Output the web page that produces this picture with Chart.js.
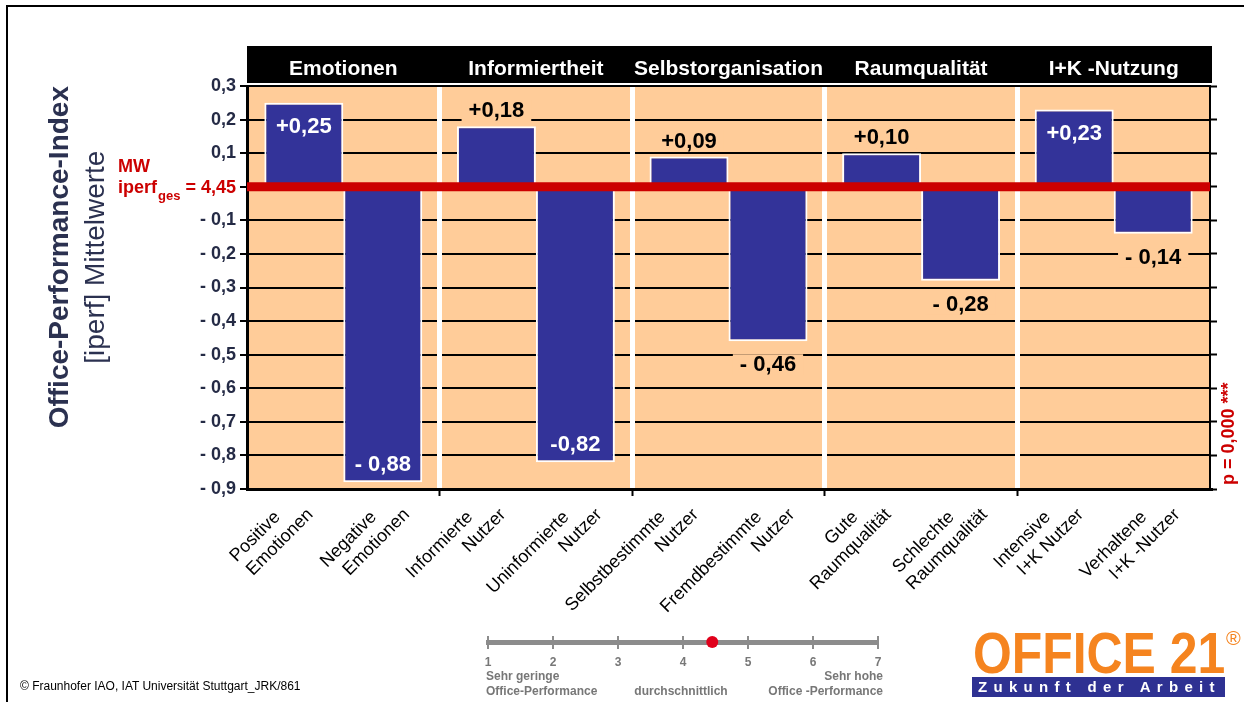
<!DOCTYPE html>
<html lang="de">
<head>
<meta charset="utf-8">
<title>Office-Performance-Index</title>
<script src="https://cdn.jsdelivr.net/npm/chart.js@4.4.1/dist/chart.umd.min.js"></script>
<style>
  html, body { margin: 0; padding: 0; background: #fff; }
  body { width: 1244px; height: 702px; position: relative; overflow: hidden;
         font-family: 'Liberation Sans', Arial, sans-serif; }
  #frame { position: absolute; left: 6px; top: 5px; width: 1300px; height: 800px;
           border-left: 2px solid #000; border-top: 2px solid #000; }
  #main { position: absolute; left: 0; top: 0; }
  #scale { position: absolute; left: 478px; top: 626px; }
  .st { position: absolute; font-weight: bold; font-size: 12px; color: #777;
        white-space: nowrap; line-height: 14px; width: 200px; }
  #footer { position: absolute; left: 20px; top: 679px; font-size: 12px; line-height: 14px;
            color: #000; white-space: nowrap; }
  #logo { position: absolute; left: 973px; top: 625px; font-size: 57px; line-height: 57px;
          font-weight: bold; color: #f5841f; white-space: nowrap;
          transform: scaleX(0.875); transform-origin: left top; }
  #reg { position: absolute; left: 1226px; top: 628px; font-size: 20px; line-height: 20px;
         color: #f5841f; }
  #band { position: absolute; left: 972px; top: 677px; width: 253px; height: 20px;
          background: #2e3192; color: #fff; font-weight: bold; font-size: 15px;
          line-height: 20px; letter-spacing: 6.3px; padding-left: 6px; box-sizing: border-box;
          white-space: nowrap; overflow: hidden; }
</style>
</head>
<body>
<div id="frame"></div>
<canvas id="main" width="1244" height="702"></canvas>
<canvas id="scale" width="410" height="50"></canvas>
<div class="st" style="left:486px;top:669px;text-align:left;">Sehr geringe</div>
<div class="st" style="left:486px;top:684px;text-align:left;">Office-Performance</div>
<div class="st" style="left:581px;top:684px;text-align:center;">durchschnittlich</div>
<div class="st" style="left:683px;top:669px;text-align:right;">Sehr hohe</div>
<div class="st" style="left:683px;top:684px;text-align:right;">Office -Performance</div>
<div id="footer">© Fraunhofer IAO, IAT Universität Stuttgart_JRK/861</div>
<div id="logo">OFFICE 21</div>
<div id="reg">®</div>
<div id="band">Zukunft der Arbeit</div>
<script>
// ---- data ----
const groups = ['Emotionen', 'Informiertheit', 'Selbstorganisation', 'Raumqualität', 'I+K -Nutzung'];
const barLabels = [
  ['Positive', 'Emotionen'], ['Negative', 'Emotionen'],
  ['Informierte', 'Nutzer'], ['Uninformierte', 'Nutzer'],
  ['Selbstbestimmte', 'Nutzer'], ['Fremdbestimmte', 'Nutzer'],
  ['Gute', 'Raumqualität'], ['Schlechte', 'Raumqualität'],
  ['Intensive', 'I+K Nutzer'], ['Verhaltene', 'I+K -Nutzer']
];
// deviation from the overall mean iperf, one value per bar
const deviations = [0.25, -0.88, 0.18, -0.82, 0.09, -0.46, 0.10, -0.28, 0.23, -0.14];
const valueTexts = ['+0,25', '- 0,88', '+0,18', '-0,82', '+0,09', '- 0,46', '+0,10', '- 0,28', '+0,23', '- 0,14'];
const yMin = -0.9;
const yMax = 0.3;
const yStep = 0.1;
const overallMean = 4.45;
const pText = 'p = 0,000 ***';
const perfScaleMin = 1;
const perfScaleMax = 7;

// ---- styling ----
const FONT = "'Liberation Sans', Arial, sans-serif";
const PEACH = '#ffcc99';
const NAVY = '#333399';
const RED = '#cc0000';
const AXIS_TEXT = '#242a45';
const TITLE_TEXT = '#2b3150';
Chart.defaults.font.family = FONT;

const firstOfPair = deviations.filter((_, i) => i % 2 === 0);
const secondOfPair = deviations.filter((_, i) => i % 2 === 1);

function fmtTick(v) {
  const r = Math.round(v * 10);
  if (r === 0) return '';
  const s = (Math.abs(r) / 10).toFixed(1).replace('.', ',');
  return r > 0 ? s : '- ' + s;
}

// peach plot area and black header band
const backdrop = {
  id: 'backdrop',
  beforeDraw(chart) {
    const { ctx, chartArea: a, scales } = chart;
    ctx.save();
    ctx.fillStyle = PEACH;
    ctx.fillRect(a.left, a.top, a.right - a.left, a.bottom - a.top);
    const h = scales.xTop;
    ctx.fillStyle = '#000';
    ctx.fillRect(h.left, h.top, h.right - h.left + 2, h.bottom - h.top - 3);
    ctx.restore();
  }
};

// thick red line at the overall mean (deviation 0)
const meanLine = {
  id: 'meanLine',
  afterDatasetsDraw(chart) {
    const { ctx, chartArea: a, scales } = chart;
    const y0 = scales.y.getPixelForValue(0);
    ctx.save();
    ctx.fillStyle = RED;
    ctx.fillRect(a.left, y0 - 4.5, a.right - a.left, 9);
    ctx.restore();
  }
};

// value labels on / next to the bars
const valueLabels = {
  id: 'valueLabels',
  afterDatasetsDraw(chart) {
    const { ctx } = chart;
    ctx.save();
    ctx.font = 'bold 22px ' + FONT;
    ctx.textAlign = 'center';
    ctx.textBaseline = 'middle';
    chart.data.datasets.forEach((ds, d) => {
      const meta = chart.getDatasetMeta(d);
      meta.data.forEach((bar, i) => {
        const k = i * 2 + d;
        const v = deviations[k];
        const txt = valueTexts[k];
        const inside = v > 0 ? v >= 0.2 : v <= -0.8;
        let y;
        if (inside) y = v > 0 ? bar.y + 23 : bar.y - 18;
        else y = v > 0 ? bar.y - 16 : bar.y + 23;
        if (!inside) {
          const w = ctx.measureText(txt).width;
          ctx.fillStyle = PEACH;
          ctx.fillRect(bar.x - w / 2 - 7, y - 10, w + 14, 21);
        }
        ctx.fillStyle = inside ? '#fff' : '#000';
        ctx.fillText(txt, bar.x, y + 1);
      });
    });
    ctx.restore();
  }
};

// mean annotation, second title line and significance note
const annotations = {
  id: 'annotations',
  afterDraw(chart) {
    const { ctx, chartArea: a, scales } = chart;
    const ys = scales.y;
    const y0 = ys.getPixelForValue(0);
    ctx.save();
    // MW  iperf_ges = 4,45
    const meanStr = ' = ' + overallMean.toFixed(2).replace('.', ',');
    ctx.fillStyle = RED;
    ctx.textBaseline = 'alphabetic';
    ctx.textAlign = 'left';
    ctx.font = 'bold 18px ' + FONT;
    const w1 = ctx.measureText('iperf').width;
    const w3 = ctx.measureText(meanStr).width;
    ctx.font = 'bold 13px ' + FONT;
    const w2 = ctx.measureText('ges').width + 1;
    const xr = ys.right - 11;
    const x0 = xr - (w1 + w2 + w3);
    ctx.font = 'bold 18px ' + FONT;
    ctx.fillText('MW', x0, y0 - 15);
    ctx.fillText('iperf', x0, y0 + 6);
    ctx.fillText(meanStr, x0 + w1 + w2, y0 + 6);
    ctx.font = 'bold 13px ' + FONT;
    ctx.fillText('ges', x0 + w1 + 1, y0 + 13);

    // second line of the y axis title
    ctx.font = 'bold 28px ' + FONT;
    const L = ctx.measureText(ys.options.title.text).width;
    ctx.save();
    ctx.translate(ys.left + 96, ys.top + L / 2);
    ctx.rotate(-Math.PI / 2);
    ctx.font = '28px ' + FONT;
    ctx.fillStyle = TITLE_TEXT;
    ctx.textAlign = 'center';
    ctx.textBaseline = 'middle';
    ctx.fillText('[iperf] Mittelwerte', 0, 0);
    ctx.restore();

    // significance, rotated along the right axis
    ctx.save();
    ctx.translate(a.right + 19, a.bottom - 4);
    ctx.rotate(-Math.PI / 2);
    ctx.font = 'bold 18px ' + FONT;
    ctx.fillStyle = RED;
    ctx.textAlign = 'left';
    ctx.textBaseline = 'middle';
    ctx.fillText(pText, 0, 0);
    ctx.restore();
    ctx.restore();
  }
};

const separatorColor = (c, col) => (c.index >= 1 ? col : 'rgba(0,0,0,0)');

new Chart(document.getElementById('main'), {
  type: 'bar',
  data: {
    labels: groups,
    datasets: [
      { data: firstOfPair, backgroundColor: NAVY, borderColor: '#fff', borderWidth: 2,
        categoryPercentage: 0.82, barPercentage: 1 },
      { data: secondOfPair, backgroundColor: NAVY, borderColor: '#fff', borderWidth: 2,
        categoryPercentage: 0.82, barPercentage: 1 }
    ]
  },
  plugins: [backdrop, meanLine, valueLabels, annotations],
  options: {
    responsive: false,
    animation: false,
    events: [],
    layout: { padding: { top: 46, left: 0, right: 0, bottom: 0 } },
    plugins: { legend: { display: false }, tooltip: { enabled: false } },
    scales: {
      y: {
        position: 'left',
        min: yMin, max: yMax,
        afterFit(s) { s.width = 247; },
        ticks: { stepSize: yStep, callback: v => fmtTick(v), color: AXIS_TEXT, padding: 4,
                 font: { size: 18, weight: 'bold' } },
        grid: { color: '#000', lineWidth: 2, tickLength: 7, tickColor: '#000', tickWidth: 2 },
        border: { color: '#000', width: 3 },
        title: { display: true, text: 'Office-Performance-Index', align: 'end', color: TITLE_TEXT,
                 font: { size: 28, weight: 'bold' }, padding: { top: 43, bottom: 0 } }
      },
      yR: {
        position: 'right',
        min: yMin, max: yMax,
        afterFit(s) { s.width = 34; },
        ticks: { display: false, stepSize: yStep },
        grid: { drawOnChartArea: false, tickLength: 7, color: '#000', tickColor: '#000', tickWidth: 2 },
        border: { color: '#000', width: 2 }
      },
      x: {
        position: 'bottom',
        offset: true,
        afterFit(s) { s.height = 0; },
        ticks: { display: false },
        grid: { offset: true, z: -0.5, lineWidth: 5, tickLength: 7, tickWidth: 2,
                color: c => separatorColor(c, '#fff'),
                tickColor: c => separatorColor(c, '#000') },
        border: { color: '#000', width: 3 }
      },
      xTop: {
        type: 'category',
        position: 'top',
        labels: groups,
        offset: true,
        afterFit(s) { s.height = 40; },
        grid: { display: false, drawTicks: false },
        border: { display: true, color: '#000', width: 2 },
        ticks: { color: '#fff', padding: 4, autoSkip: false, minRotation: 0, maxRotation: 0,
                 font: { size: 21, weight: 'bold' } }
      },
      xLab: {
        type: 'category',
        position: 'bottom',
        labels: barLabels,
        offset: true,
        afterFit(s) { s.height = 213; },
        grid: { display: false, drawTicks: false },
        border: { display: false },
        ticks: {
          autoSkip: false, minRotation: 45, maxRotation: 45, padding: 0, color: '#000',
          font: { size: 18 },
          callback: (v, i) => [barLabels[i][0] + '     ', barLabels[i][1]]
        }
      }
    }
  }
});

// 1..7 performance scale with the overall mean marked
new Chart(document.getElementById('scale'), {
  type: 'scatter',
  data: {
    datasets: [{ data: [{ x: overallMean, y: 0 }], pointRadius: 6, pointBackgroundColor: '#e0001b',
                 pointBorderWidth: 0, clip: false }]
  },
  options: {
    responsive: false,
    animation: false,
    events: [],
    layout: { padding: { left: 10, right: 10, top: 10, bottom: 0 } },
    plugins: { legend: { display: false }, tooltip: { enabled: false } },
    scales: {
      x: {
        type: 'linear', min: perfScaleMin, max: perfScaleMax,
        afterFit(s) { s.height = 34; },
        ticks: { stepSize: 1, color: '#777', padding: 6, font: { size: 12, weight: 'bold' } },
        grid: { color: '#8c8c8c', lineWidth: 2, tickLength: 7, tickColor: '#8c8c8c', tickWidth: 2 },
        border: { color: '#8c8c8c', width: 5 }
      },
      y: { display: false, min: 0, max: 1 }
    }
  }
});
</script>
</body>
</html>
